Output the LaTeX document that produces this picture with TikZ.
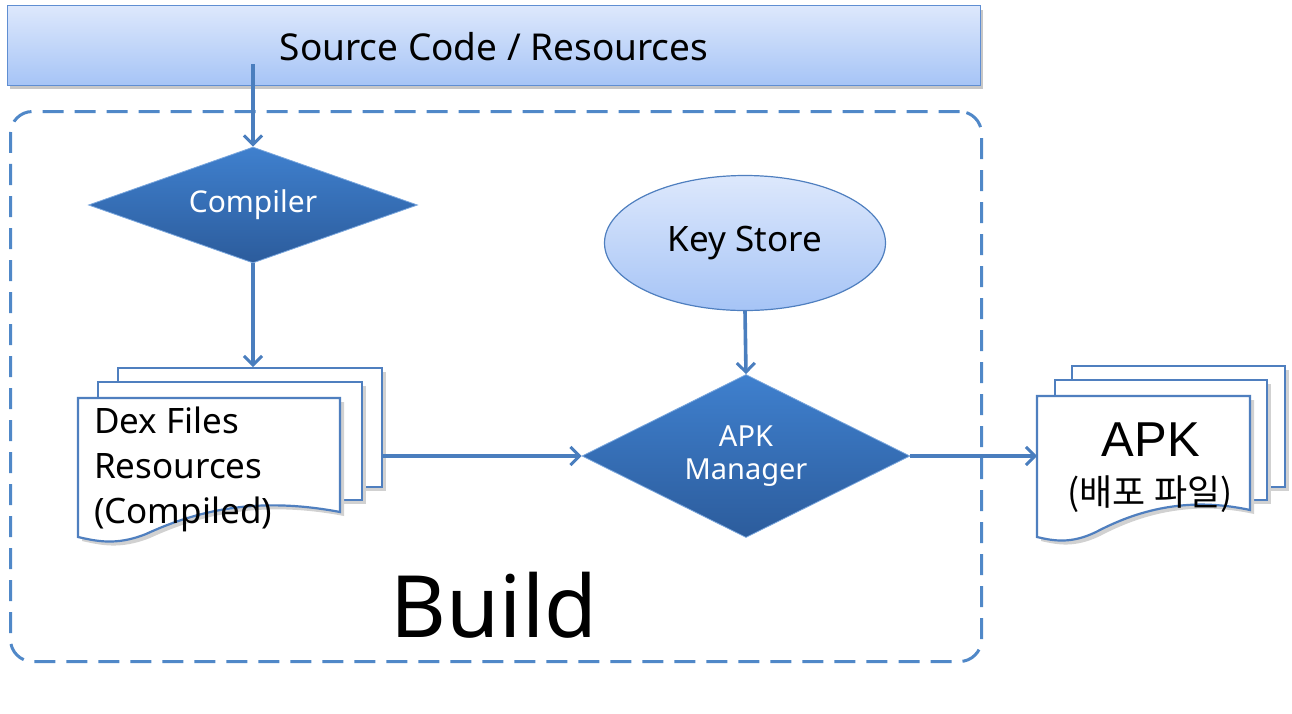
\documentclass[tikz,border=0pt]{standalone}
\usepackage{fontspec}
\setmainfont{Noto Sans}
\newfontfamily\arialf{Liberation Sans}
\newfontfamily\krf{Noto Sans CJK KR}
\usetikzlibrary{arrows.meta,shapes.geometric}
\definecolor{topA}{HTML}{DDE8FC}
\definecolor{topB}{HTML}{A6C4F6}
\definecolor{bordB}{HTML}{5F8ED2}
\definecolor{dashB}{HTML}{5088C8}
\definecolor{diaA}{HTML}{3F80CE}
\definecolor{diaB}{HTML}{2C5C9C}
\definecolor{arrB}{HTML}{4A7EBE}
\definecolor{docB}{HTML}{4F7FBF}
\tikzset{
  flow/.style={draw=arrB, line width=3.6pt, -{Straight Barb[length=9pt,width=18pt,line width=3pt]}},
  decision/.style={shape=diamond, inner sep=0pt, top color=diaA, bottom color=diaB, draw=diaA!70!white, line width=0.8pt, text=white, align=center},
  docpage/.style={draw=docB, line width=2.2pt, fill=white},
}
\begin{document}
\begin{tikzpicture}[x=1pt,y=-1pt]
\useasboundingbox (0,0) rectangle (1292,713);
% top box
\fill[black!22] (10,10) rectangle (983,89);
\node[draw=bordB, line width=1.2pt, top color=topA, bottom color=topB, minimum width=973pt, minimum height=80pt, inner sep=0pt, anchor=north west] (src) at (7,5) {};
\node[font=\fontsize{37}{40}\selectfont] (srctext) at (494,47) {Source Code / Resources};
% build frame
\node[draw=dashB, line width=3pt, dash pattern=on 21pt off 11pt, rounded corners=22pt, minimum width=971pt, minimum height=550pt, anchor=north west] (build) at (9,110) {};
\node[font=\fontsize{86}{90}\selectfont] (buildtext) at (494,605) {Build};
% compiler
\node[decision, aspect=2.84, minimum width=329pt, minimum height=116pt, font=\fontsize{30}{33}\selectfont] (comp) at (253,205) {Compiler};
% key store
\node[shape=ellipse, draw=docB, line width=1.2pt, top color=topA, bottom color=topB, minimum width=281pt, minimum height=135pt, inner sep=0pt, font=\fontsize{35}{38}\selectfont] (ks) at (745,243) {Key Store};
% apk manager
\node[decision, aspect=2.0, minimum width=328pt, minimum height=163pt, font=\fontsize{29}{33}\selectfont] (mgr) at (746,456) {APK\\Manager};
% dex document stack
\fill[black!18] (122,372) rectangle (386,491);
\draw[docpage] (118,368) rectangle (382,487);
\fill[black!18] (102,386) rectangle (366,504);
\draw[docpage] (98,382) rectangle (362,500);
\fill[black!18] (82,402) -- (344,402) -- (344,516) .. controls (260,500) and (200,515) .. (150,538) .. controls (120,550) and (100,545) .. (82,541) -- cycle;
\draw[docpage] (78,398) -- (340,398) -- (340,512) .. controls (256,496) and (196,511) .. (146,534) .. controls (116,546) and (96,541) .. (78,537) -- cycle;
\node[anchor=base west, align=left, inner sep=0pt, font=\fontsize{35}{45}\selectfont] (dex) at (94,523) {Dex Files\\Resources\\(Compiled)};
\coordinate (dexout) at (382,456);
% apk document stack
\fill[black!18] (1076,370) rectangle (1289,491);
\draw[docpage] (1072,366) rectangle (1285,487);
\fill[black!18] (1059,384) rectangle (1271,504);
\draw[docpage] (1055,380) rectangle (1267,500);
\fill[black!18] (1041,400) -- (1254,400) -- (1254,514) .. controls (1190,500) and (1140,515) .. (1100,536) .. controls (1075,548) and (1058,545) .. (1041,541) -- cycle;
\draw[docpage] (1037,396) -- (1250,396) -- (1250,510) .. controls (1186,496) and (1136,511) .. (1096,532) .. controls (1071,544) and (1054,541) .. (1037,537) -- cycle;
\node[font=\arialf\fontsize{49}{52}\selectfont] (apk) at (1151,440) {APK};
\node[font=\krf\fontsize{36}{40}\selectfont] (apksub) at (1150,494) {(배포 파일)};
\coordinate (apkin) at (1037,456);
% connectors
\coordinate (srcout) at (253,64);
\draw[flow] (srcout) -- (comp.north);
\draw[flow] (comp.south) -- (253,367);
\draw[flow] (dexout) -- (mgr.west);
\draw[flow] (ks.south) -- (mgr.north);
\draw[flow] (mgr.east) -- (apkin);
\end{tikzpicture}
\end{document}
